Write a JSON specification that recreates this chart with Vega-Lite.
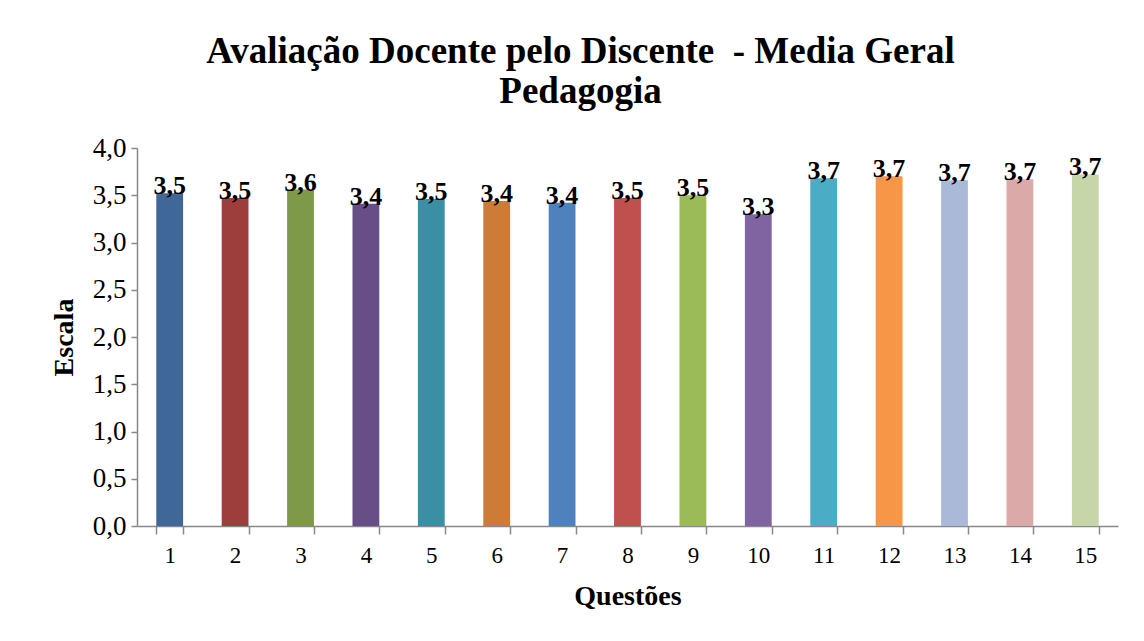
{
  "$schema": "https://vega.github.io/schema/vega-lite/v6.json",
  "autosize": "none",
  "width": 981,
  "height": 378,
  "padding": {"left": 137, "top": 148, "right": 26, "bottom": 115},
  "background": "white",
  "title": {
    "text": ["Avaliação Docente pelo Discente\u00a0\u00a0- Media Geral", "Pedagogia"],
    "font": "Liberation Serif",
    "fontSize": 37,
    "fontWeight": "bold",
    "color": "black",
    "anchor": "middle",
    "dx": -47,
    "offset": 23,
    "lineHeight": 40
  },
  "data": {
    "values": [
      {"q": "1", "v": 3.52, "c": "#3F6797"},
      {"q": "2", "v": 3.47, "c": "#9E3E3C"},
      {"q": "3", "v": 3.56, "c": "#7E9A48"},
      {"q": "4", "v": 3.41, "c": "#674E87"},
      {"q": "5", "v": 3.46, "c": "#3B8FA4"},
      {"q": "6", "v": 3.44, "c": "#CE7B37"},
      {"q": "7", "v": 3.42, "c": "#4F81BD"},
      {"q": "8", "v": 3.47, "c": "#C0504D"},
      {"q": "9", "v": 3.5, "c": "#9BBB59"},
      {"q": "10", "v": 3.3, "c": "#8064A2"},
      {"q": "11", "v": 3.68, "c": "#4BACC6"},
      {"q": "12", "v": 3.7, "c": "#F79646"},
      {"q": "13", "v": 3.66, "c": "#AAB9D7"},
      {"q": "14", "v": 3.67, "c": "#DBA9A8"},
      {"q": "15", "v": 3.72, "c": "#C6D6A8"}
    ]
  },
  "encoding": {
    "x": {
      "field": "q",
      "type": "ordinal",
      "sort": null,
      "scale": {"paddingInner": 0.59, "paddingOuter": 0.295},
      "axis": {
        "title": "Questões",
        "labelAngle": 0,
        "labelFontSize": 23,
        "bandPosition": 0,
        "tickBand": "extent",
        "tickSize": 8,
        "labelPadding": 10,
        "titlePadding": 15
      }
    },
    "y": {
      "field": "v",
      "type": "quantitative",
      "scale": {"domain": [0, 4]},
      "axis": {
        "title": "Escala",
        "values": [0, 0.5, 1, 1.5, 2, 2.5, 3, 3.5, 4],
        "format": ".1f",
        "grid": false,
        "labelFontSize": 27,
        "tickSize": 6,
        "labelPadding": 5,
        "titlePadding": 14
      }
    }
  },
  "layer": [
    {
      "mark": {"type": "bar"},
      "encoding": {"color": {"field": "c", "type": "nominal", "scale": null}}
    },
    {
      "mark": {"type": "text", "font": "Liberation Serif", "fontSize": 26, "fontWeight": "bold", "baseline": "alphabetic", "dy": 1, "color": "black"},
      "encoding": {"text": {"field": "v", "type": "quantitative", "format": ".1f"}}
    }
  ],
  "config": {
    "locale": {"number": {"decimal": ",", "thousands": ".", "grouping": [3], "currency": ["", ""]}},
    "view": {"stroke": null},
    "axis": {
      "labelFont": "Liberation Serif",
      "labelColor": "black",
      "titleFont": "Liberation Serif",
      "titleFontSize": 28,
      "titleFontWeight": "bold",
      "titleColor": "black",
      "domainColor": "#888888",
      "tickColor": "#888888",
      "domainWidth": 1.5,
      "tickWidth": 1.5
    }
  }
}
